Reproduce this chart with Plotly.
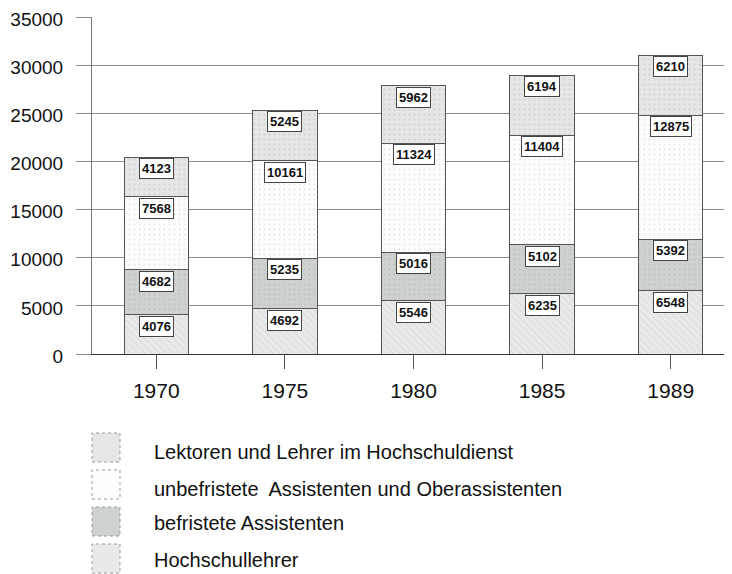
import plotly.graph_objects as go

years = ["1970", "1975", "1980", "1985", "1989"]
series_names = [
    "Hochschullehrer",
    "befristete Assistenten",
    "unbefristete  Assistenten und Oberassistenten",
    "Lektoren und Lehrer im Hochschuldienst",
]
hochschullehrer = [4076, 4692, 5546, 6235, 6548]
befristete = [4682, 5235, 5016, 5102, 5392]
unbefristete = [7568, 10161, 11324, 11404, 12875]
lektoren = [4123, 5245, 5962, 6194, 6210]
y_ticks = [0, 5000, 10000, 15000, 20000, 25000, 30000, 35000]

series_values = [hochschullehrer, befristete, unbefristete, lektoren]
bg_colors = ["#e9e9e9", "#cdd1cf", "#fdfdfd", "#e6e6e6"]
fg_colors = ["#b8b8b8", "#b0b4b2", "#d0d0d0", "#bcbcbc"]
shapes_pat = ["\\", ".", ".", "."]

FONT = "Liberation Sans"
PAGE_OFF = 8  # body margin of the html page

fig = go.Figure()
for name, vals, bg, fg, sh in zip(series_names, series_values, bg_colors, fg_colors, shapes_pat):
    fig.add_trace(go.Bar(
        x=years, y=vals, name=name,
        marker=dict(color=bg, line=dict(color="#555555", width=1),
                    pattern=dict(shape=sh, bgcolor=bg, fgcolor=fg, size=5, solidity=0.15)),
        width=0.5, showlegend=False, hoverinfo="skip",
    ))

annotations = []
cum = [0] * len(years)
for vals in series_values:
    for i, v in enumerate(vals):
        cum[i] += v
        annotations.append(dict(
            x=i, y=cum[i], xref="x", yref="y", text=f"<b>{v}</b>",
            showarrow=False, yanchor="top", xanchor="center", yshift=-1,
            font=dict(family=FONT, size=13, color="#111111"),
            bgcolor="white", bordercolor="#444444", borderwidth=1, borderpad=2,
        ))

# target page geometry (pixels)
plot_left, plot_right, plot_top, plot_bottom = 92, 735, 17, 354
plot_w = plot_right - plot_left

def py(px):
    return (plot_bottom - px) / (plot_bottom - plot_top)

def pxf(px):
    return (px - plot_left) / plot_w

shapes = []
legend_order = list(range(len(series_names)))[::-1]
text_centers = [452, 489, 523, 560]
for k, idx in enumerate(legend_order):
    top = 433 + k * 37
    shapes.append(dict(type="rect", xref="paper", yref="paper",
                       x0=pxf(92), x1=pxf(120), y0=py(top + 29), y1=py(top),
                       fillcolor=bg_colors[idx], line=dict(color="#999999", width=1, dash="dot")))
    annotations.append(dict(x=pxf(152), y=py(text_centers[k]), xref="paper", yref="paper",
                            text=series_names[idx], showarrow=False, xanchor="left", yanchor="middle",
                            font=dict(family=FONT, size=20, color="#111111")))

W, H = 732, 574
fig.update_layout(
    barmode="stack",
    width=W, height=H,
    margin=dict(l=plot_left - PAGE_OFF, r=W - (plot_right - PAGE_OFF), t=plot_top - PAGE_OFF,
                b=H - (plot_bottom - PAGE_OFF), autoexpand=False),
    paper_bgcolor="white", plot_bgcolor="white",
    font=dict(family=FONT, color="#111111"),
    annotations=annotations,
    shapes=shapes,
    xaxis=dict(type="category", range=[-0.5, 4.5], showgrid=False, ticks="outside", ticklen=14,
               tickcolor="#555555", showline=True, linecolor="#333333", linewidth=1,
               ticklabelstandoff=4,
               tickfont=dict(size=21, family=FONT, color="#111111")),
    yaxis=dict(range=[0, 35000], tickvals=y_ticks, ticktext=[str(t) for t in y_ticks],
               showgrid=True, gridcolor="#8a8a8a", gridwidth=1, zeroline=False,
               ticks="outside", ticklen=15, tickcolor="#8a8a8a", ticklabelstandoff=9,
               ticklabeloverflow="allow", ticklabelshift=2,
               showline=True, linecolor="#777777", linewidth=1,
               tickfont=dict(size=19, family=FONT, color="#111111")),
)

fig.write_html("out.html")
